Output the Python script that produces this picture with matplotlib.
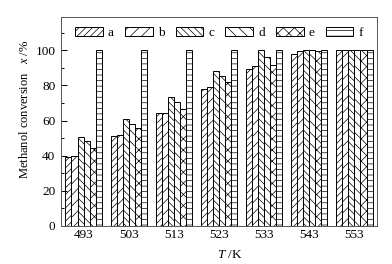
import numpy as np
import matplotlib
matplotlib.use('Agg')
from matplotlib import pyplot as plt

plt.rcParams['font.family'] = ['Liberation Serif', 'DejaVu Serif']
plt.rcParams['mathtext.fontset'] = 'custom'
plt.rcParams['mathtext.it'] = 'Liberation Serif:italic'
plt.rcParams['mathtext.rm'] = 'Liberation Serif'
plt.rcParams['hatch.linewidth'] = 0.5

temps = ['493', '503', '513', '523', '533', '543', '553']
series = ['a', 'b', 'c', 'd', 'e', 'f']
a = [39.3, 51.5, 64.4, 78.0, 89.6, 98.1, 100]
b = [39.7, 52.0, 64.4, 79.0, 91.0, 99.4, 100]
c = [50.5, 60.8, 73.5, 88.4, 100, 100, 100]
d = [48.5, 57.9, 70.5, 85.2, 96.0, 100, 100]
e = [44.2, 56.0, 66.7, 82.1, 91.8, 99.4, 100]
f = [100, 100, 100, 100, 100, 100, 100]
values = [a, b, c, d, e, f]
hatches = ['/////', '///', '\\\\\\\\\\', '\\\\\\', 'xxx', '---']

fs = 9.5
fig = plt.figure(figsize=(3.92, 2.64), dpi=100)
ax = fig.add_axes([61/392, 1 - 226/264, 316/392, 209/264])

x = np.arange(len(temps))
w = 0.134
for j, s in enumerate(series):
    ax.bar(x + (j - 2.5) * w, values[j], w, color='white', edgecolor='black',
           linewidth=0.7, hatch=hatches[j], label=s)

ax.set_xlim(-0.5, 6.5)
ax.set_ylim(0, 119)
ax.set_xticks(x)
ax.set_xticklabels(temps)
ax.set_yticks([0, 20, 40, 60, 80, 100])
ax.set_yticks(np.arange(10, 111, 20), minor=True)
ax.tick_params(axis='y', which='major', direction='in', length=4, width=0.7, labelsize=fs, pad=4)
ax.tick_params(axis='y', which='minor', direction='in', length=2, width=0.7)
ax.tick_params(axis='x', which='both', length=0, labelsize=fs, pad=2)
for sp in ax.spines.values():
    sp.set_linewidth(0.7)
    sp.set_color('#555555')

ax.set_ylabel('Methanol conversion   $x$ /%', fontsize=9)
ax.yaxis.set_label_coords(-0.095, 0.56)
ax.set_xlabel('$T$ /K', fontsize=fs)
ax.xaxis.set_label_coords(0.535, -0.11)

ax.legend(loc='center', bbox_to_anchor=(0.5, 0.924), ncol=6, frameon=False,
          fontsize=fs, handlelength=2.1, handleheight=0.7, handletextpad=0.38,
          columnspacing=0.85, borderaxespad=0)

plt.savefig('out.png', dpi=100)
